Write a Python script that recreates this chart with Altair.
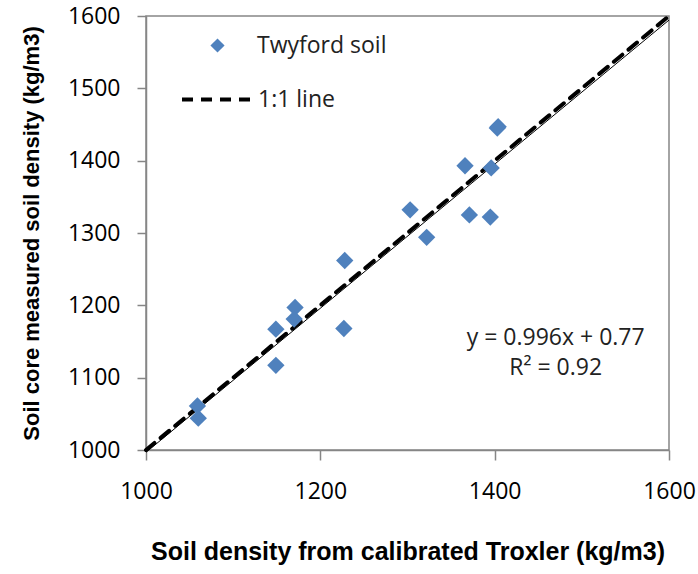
import altair as alt
import pandas as pd

troxler = [1059, 1060, 1149, 1149, 1171, 1170, 1228, 1227, 1303, 1322,
           1366, 1371, 1396, 1395, 1403, 1404]
core = [1061, 1044, 1167, 1117, 1197, 1181, 1262, 1168, 1332, 1294,
        1393, 1325, 1390, 1322, 1445, 1447]

# 1:1 line and fitted trend line end points
one_x = [1000, 1600]
one_y = [1000, 1600]
trend_x = [1000, 1600]
trend_y = [996.77, 1594.37]

eq_text = ["y = 0.996x + 0.77", "R² = 0.92"]
eq_x = [1470, 1470]
eq_y = [1155, 1114]

pts = pd.DataFrame({"x": troxler, "y": core, "series": ["Twyford soil"] * len(troxler)})
one = pd.DataFrame({"x": one_x, "y": one_y, "series": ["1:1 line"] * 2})
trend = pd.DataFrame({"x": trend_x, "y": trend_y})
eq = pd.DataFrame({"x": eq_x, "y": eq_y, "t": eq_text})

xs = alt.Scale(domain=[1000, 1600], nice=False, zero=False)
ys = alt.Scale(domain=[1000, 1600], nice=False, zero=False)

xax = alt.Axis(values=[1000, 1200, 1400, 1600], format="d", labelFlush=False,
               title="Soil density from calibrated Troxler (kg/m3)",
               tickSize=10, labelPadding=20, titlePadding=36, titleFontSize=25)
yax = alt.Axis(values=[1000, 1100, 1200, 1300, 1400, 1500, 1600], format="d", labelFlush=False,
               title="Soil core measured soil density (kg/m3)",
               tickSize=9, labelPadding=17, titlePadding=24, titleFontSize=22)

txt_font = "Open Sans"

trend_layer = alt.Chart(trend).mark_line(color="black", strokeWidth=1).encode(
    x=alt.X("x:Q", scale=xs, axis=xax),
    y=alt.Y("y:Q", scale=ys, axis=yax),
)

line_layer = alt.Chart(one).mark_line(color="black", strokeWidth=4, strokeCap="round").encode(
    x=alt.X("x:Q", scale=xs),
    y=alt.Y("y:Q", scale=ys),
    strokeDash=alt.StrokeDash(
        "series:N",
        scale=alt.Scale(range=[[11, 8]]),
        legend=alt.Legend(
            title=None, orient="none", legendX=34, legendY=45,
            symbolType="stroke", symbolSize=5329, symbolStrokeWidth=4,
            symbolStrokeColor="black", labelOffset=1, padding=0,
            labelFont=txt_font, labelFontSize=23, labelColor="#222",
        ),
    ),
)

point_layer = alt.Chart(pts).mark_point(filled=True, color="#4F81BD", size=300, opacity=1).encode(
    x=alt.X("x:Q", scale=xs),
    y=alt.Y("y:Q", scale=ys),
    shape=alt.Shape(
        "series:N",
        scale=alt.Scale(range=["diamond"]),
        legend=alt.Legend(
            title=None, orient="none", legendX=60, legendY=18,
            symbolSize=200, symbolFillColor="#4F81BD", symbolStrokeColor="#4F81BD",
            symbolOpacity=1, labelOffset=28, padding=0,
            labelFont=txt_font, labelFontSize=23, labelColor="#222",
        ),
    ),
)

eq_layer = alt.Chart(eq).mark_text(font=txt_font, fontSize=23, color="#222", align="center", baseline="middle").encode(
    x=alt.X("x:Q", scale=xs),
    y=alt.Y("y:Q", scale=ys),
    text="t:N",
)

chart = alt.layer(trend_layer, line_layer, point_layer, eq_layer).properties(
    width=523, height=434,
    background="white",
    autosize=alt.AutoSizeParams(type="none"),
    padding={"left": 146, "top": 16, "right": 29, "bottom": 124},
).configure_view(
    stroke="#868686", strokeWidth=1.5
).configure_axis(
    grid=False, domainColor="#868686", tickColor="#868686", domainWidth=1.5, tickWidth=1.5,
    labelFont=txt_font, labelFontSize=23, labelColor="black",
    titleFont="Liberation Sans", titleFontWeight="bold", titleColor="black",
)

chart.save("out.html", embed_options={"renderer": "svg", "actions": False})
